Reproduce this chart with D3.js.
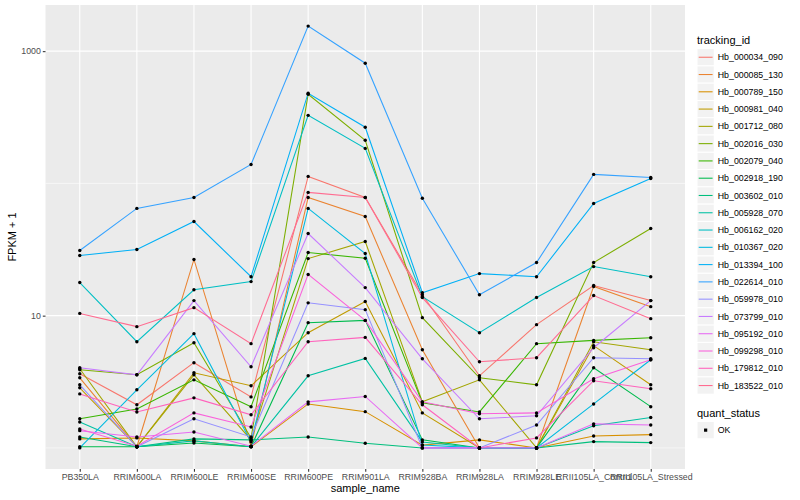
<!DOCTYPE html>
<html>
<head>
<meta charset="utf-8">
<script src="https://cdn.jsdelivr.net/npm/d3@7"></script>
<style>
  body { margin: 0; background: #fff; }
  text { font-family: "Liberation Sans", Arial, sans-serif; }
</style>
</head>
<body>
<svg id="chart" width="800" height="500"></svg>
<script>
const samples = ['PB350LA', 'RRIM600LA', 'RRIM600LE', 'RRIM600SE', 'RRIM600PE',
  'RRIM901LA', 'RRIM928BA', 'RRIM928LA', 'RRIM928LE', 'RRII105LA_Control',
  'RRII105LA_Stressed'];

const trackingIds = ['Hb_000034_090', 'Hb_000085_130', 'Hb_000789_150',
  'Hb_000981_040', 'Hb_001712_080', 'Hb_002016_030', 'Hb_002079_040',
  'Hb_002918_190', 'Hb_003602_010', 'Hb_005928_070', 'Hb_006162_020',
  'Hb_010367_020', 'Hb_013394_100', 'Hb_022614_010', 'Hb_059978_010',
  'Hb_073799_010', 'Hb_095192_010', 'Hb_099298_010', 'Hb_179812_010',
  'Hb_183522_010'];

// FPKM + 1, one value per sample
const hb_000034_090 = [3.64, 2.12, 4.41, 2.43, 113, 78.3, 14.4, 3.51, 8.55, 16.9, 13.0];
const hb_000085_130 = [3.39, 1.02, 26.6, 1.03, 78.3, 56.2, 5.53, 1, 1, 16.6, 11.7];
const hb_000789_150 = [1.17, 1.19, 1.13, 1.02, 2.15, 1.88, 1.05, 1.15, 1, 1.23, 1.26];
const hb_000981_040 = [2.85, 1.02, 3.70, 2.95, 7.43, 12.8, 1.84, 1, 1, 5.93, 3.0];
const hb_001712_080 = [3.97, 1.02, 3.57, 1.15, 27.0, 36.4, 2.23, 3.27, 1, 6.35, 5.53];
const hb_002016_030 = [3.90, 3.57, 6.24, 1.19, 472, 212, 9.66, 3.39, 3.0, 25.2, 45.6];
const hb_002079_040 = [1.66, 1.97, 3.27, 2.05, 30.0, 27.2, 2.19, 1.87, 6.14, 6.5, 6.81];
const hb_002918_190 = [1.02, 1.02, 1.09, 1.02, 8.85, 9.21, 1.15, 1, 1, 4.04, 2.05];
const hb_003602_010 = [1.21, 1.02, 1.17, 1.15, 1.21, 1.085, 1, 1, 1, 1.116, 1.097];
const hb_005928_070 = [1.57, 1.02, 1.13, 1.02, 3.51, 4.75, 1.11, 1, 1, 1.47, 1.70];
const hb_006162_020 = [17.8, 6.35, 15.7, 18.1, 327, 184, 13.9, 7.43, 13.7, 23.5, 19.7];
const hb_010367_020 = [1, 2.75, 7.31, 1.11, 64.7, 29.5, 1.05, 1, 1, 2.15, 4.64];
const hb_013394_100 = [28.5, 31.6, 51.5, 19.7, 481, 266, 14.9, 20.8, 19.7, 70.5, 109];
const hb_022614_010 = [31.1, 64.7, 78.3, 139, 1547, 811, 77.3, 14.4, 25.2, 117, 111];
const hb_059978_010 = [3.0, 1.02, 1.66, 1.21, 12.5, 11.1, 1, 1, 1.49, 4.81, 4.72];
const hb_073799_010 = [4.04, 3.57, 13.0, 4.11, 41.8, 16.3, 4.72, 1.66, 1.75, 5.72, 13.0];
const hb_095192_010 = [1.35, 1.21, 1.32, 1.03, 2.23, 2.45, 1, 1, 1, 1.52, 1.49];
const hb_099298_010 = [1.39, 1.03, 1.84, 1.44, 20.5, 9.21, 2.23, 1.81, 1.84, 3.33, 4.64];
const hb_179812_010 = [2.56, 1.87, 2.39, 1.78, 6.35, 6.85, 2.12, 1, 1.19, 3.22, 2.80];
const hb_183522_010 = [10.4, 8.26, 11.5, 6.14, 85.5, 78.3, 13.7, 4.48, 4.81, 14.2, 9.49];

const seriesValues = [hb_000034_090, hb_000085_130, hb_000789_150, hb_000981_040,
  hb_001712_080, hb_002016_030, hb_002079_040, hb_002918_190, hb_003602_010,
  hb_005928_070, hb_006162_020, hb_010367_020, hb_013394_100, hb_022614_010,
  hb_059978_010, hb_073799_010, hb_095192_010, hb_099298_010, hb_179812_010,
  hb_183522_010];

const quantStatus = ['OK'];
const yTicks = [10, 1000];
const yMinor = [1, 100];

// ggplot default hue palette for 20 levels
const palette = ['#F8766D', '#EA8331', '#D89000', '#C09B00', '#A3A500', '#7CAE00',
  '#39B600', '#00BB4E', '#00BF7D', '#00C1A3', '#00BFC4', '#00BAE0', '#00B0F6',
  '#35A2FF', '#9590FF', '#C77CFF', '#E76BF3', '#FA62DB', '#FF62BC', '#FF6C91'];

const PANEL = {left: 45.5, right: 685, top: 5, bottom: 469};

let series = trackingIds.map(function(id, i) {
  return {id: id, color: palette[i],
    points: samples.map(function(s, j) { return {sample: s, value: seriesValues[i][j]}; })};
});

let svg = d3.select('#chart');

let xScale = d3.scalePoint()
    .domain(samples)
    .range([PANEL.left, PANEL.right])
    .padding(0.6);

// log10 scale with ggplot's 5% expansion
let allValues = seriesValues.flat();
let lo = Math.log10(d3.min(allValues)), hi = Math.log10(d3.max(allValues));
let pad = (hi - lo) * 0.05;
let yScale = d3.scaleLog()
    .domain([Math.pow(10, lo - pad), Math.pow(10, hi + pad)])
    .range([PANEL.bottom, PANEL.top]);

svg.append('rect')
    .attr('x', PANEL.left).attr('y', PANEL.top)
    .attr('width', PANEL.right - PANEL.left).attr('height', PANEL.bottom - PANEL.top)
    .attr('fill', '#EBEBEB');

let grid = svg.append('g');
grid.selectAll('.minor').data(yMinor).enter().append('line')
    .attr('x1', PANEL.left).attr('x2', PANEL.right)
    .attr('y1', function(d) { return yScale(d); })
    .attr('y2', function(d) { return yScale(d); })
    .attr('stroke', '#fff').attr('stroke-width', 0.55);
grid.selectAll('.major').data(yTicks).enter().append('line')
    .attr('x1', PANEL.left).attr('x2', PANEL.right)
    .attr('y1', function(d) { return yScale(d); })
    .attr('y2', function(d) { return yScale(d); })
    .attr('stroke', '#fff').attr('stroke-width', 1.1);
grid.selectAll('.vmajor').data(samples).enter().append('line')
    .attr('x1', function(d) { return xScale(d); })
    .attr('x2', function(d) { return xScale(d); })
    .attr('y1', PANEL.top).attr('y2', PANEL.bottom)
    .attr('stroke', '#fff').attr('stroke-width', 1.1);

let line = d3.line()
    .x(function(p) { return xScale(p.sample); })
    .y(function(p) { return yScale(p.value); });

svg.append('g').selectAll('path').data(series).enter().append('path')
    .attr('d', function(s) { return line(s.points); })
    .attr('fill', 'none')
    .attr('stroke', function(s) { return s.color; })
    .attr('stroke-width', 1.07);

let pts = svg.append('g');
series.forEach(function(s) {
  pts.selectAll(null).data(s.points).enter().append('circle')
      .attr('cx', function(p) { return xScale(p.sample); })
      .attr('cy', function(p) { return yScale(p.value); })
      .attr('r', 1.7)
      .attr('fill', '#000');
});

// axes
let xAxis = svg.append('g')
    .attr('transform', 'translate(0,' + PANEL.bottom + ')')
    .call(d3.axisBottom(xScale).tickSize(2.7).tickPadding(2));
let yAxis = svg.append('g')
    .attr('transform', 'translate(' + PANEL.left + ',0)')
    .call(d3.axisLeft(yScale).tickValues(yTicks).tickSize(2.7).tickPadding(2)
        .tickFormat(d3.format('d')));
[xAxis, yAxis].forEach(function(a) {
  a.select('.domain').remove();
  a.selectAll('line').attr('stroke', '#333333').attr('stroke-width', 1.07);
  a.selectAll('text').attr('fill', '#4D4D4D')
      .style('font-size', '8.8px')
      .style('font-family', '"Liberation Sans", Arial, sans-serif');
});

svg.append('text')
    .attr('x', (PANEL.left + PANEL.right) / 2).attr('y', 492)
    .attr('text-anchor', 'middle').style('font-size', '11px')
    .text('sample_name');
svg.append('text')
    .attr('transform', 'translate(16,' + (PANEL.top + PANEL.bottom) / 2 + ') rotate(-90)')
    .attr('text-anchor', 'middle').style('font-size', '11px')
    .text('FPKM + 1');

// legend: tracking_id
const KEY = 17.28;
let legend = svg.append('g').attr('transform', 'translate(697,0)');
legend.append('text').attr('x', 0).attr('y', 43.5)
    .style('font-size', '11px').text('tracking_id');
let items = legend.selectAll('.item').data(series).enter().append('g')
    .attr('transform', function(s, i) { return 'translate(0,' + (48.6 + i * KEY) + ')'; });
items.append('rect')
    .attr('width', KEY).attr('height', KEY)
    .attr('fill', '#F2F2F2').attr('stroke', '#fff').attr('stroke-width', 1);
items.append('line')
    .attr('x1', 1.7).attr('x2', KEY - 1.7)
    .attr('y1', KEY / 2).attr('y2', KEY / 2)
    .attr('stroke', function(s) { return s.color; })
    .attr('stroke-width', 1.07);
items.append('text')
    .attr('x', KEY + 3.5).attr('y', KEY / 2 + 3.1)
    .style('font-size', '8.8px')
    .text(function(s) { return s.id; });

// legend: quant_status
let legend2 = svg.append('g').attr('transform', 'translate(697,0)');
legend2.append('text').attr('x', 0).attr('y', 416.5)
    .style('font-size', '11px').text('quant_status');
let items2 = legend2.selectAll('.item').data(quantStatus).enter().append('g')
    .attr('transform', function(d, i) { return 'translate(0,' + (421.5 + i * KEY) + ')'; });
items2.append('rect')
    .attr('width', KEY).attr('height', KEY)
    .attr('fill', '#F2F2F2').attr('stroke', '#fff').attr('stroke-width', 1);
items2.append('rect')
    .attr('x', KEY / 2 - 1.6).attr('y', KEY / 2 - 1.6)
    .attr('width', 3.2).attr('height', 3.2)
    .attr('fill', '#000');
items2.append('text')
    .attr('x', KEY + 3.5).attr('y', KEY / 2 + 3.1)
    .style('font-size', '8.8px')
    .text(function(d) { return d; });
</script>
</body>
</html>
